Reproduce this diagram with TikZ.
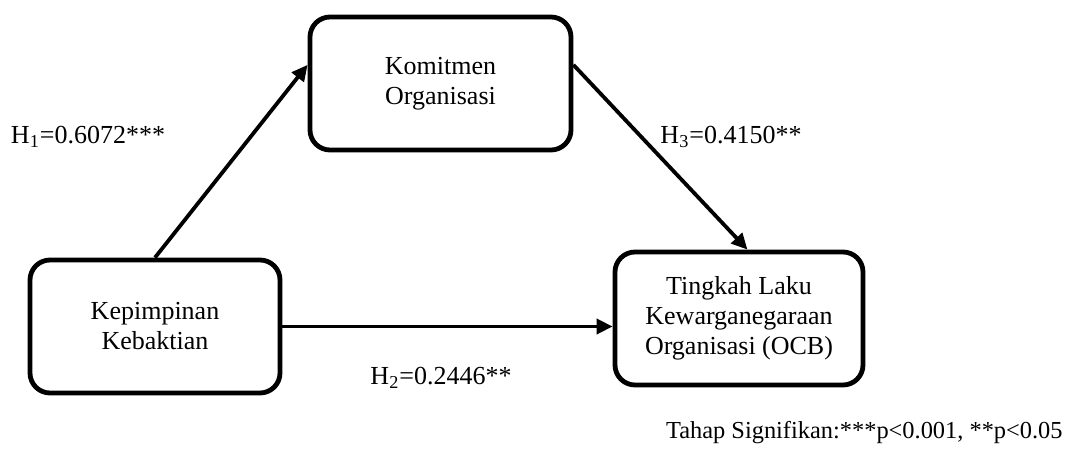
\documentclass[tikz,border=0pt]{standalone}
\usepackage{fontspec}
\setmainfont{Liberation Serif}
\usepackage{tikz}
\usetikzlibrary{arrows.meta}
\newcommand{\hubarrow}{-{Triangle[length=8pt,width=7.5pt]}}
\tikzset{konstruk/.style={draw,line width=2.4pt,rounded corners=10pt,align=center,font=\fontsize{13}{15}\selectfont,inner sep=0pt}}

\begin{document}
\begin{tikzpicture}[x=0.5pt,y=-0.5pt]
		\useasboundingbox (0,0) rectangle (1065,449);
		\node[konstruk,minimum width=130.5pt,minimum height=66.5pt] (kom) at (440.5,83.5) {Komitmen\\Organisasi};
		\node[konstruk,minimum width=125pt,minimum height=66.5pt] (kep) at (155,326.5) {Kepimpinan\\Kebaktian};
		\node[konstruk,minimum width=124pt,minimum height=66.5pt] (ocb) at (739,318.5) {Tingkah Laku\\Kewarganegaraan\\Organisasi (OCB)};
		\draw[line width=1.9pt,\hubarrow] (kep.north) -- (kom.172);
		\draw[line width=1.9pt,\hubarrow] (kom.8) -- (ocb.83);
		\draw[line width=1.9pt,\hubarrow] (kep.east) -- (kep.east -| ocb.west);
		\node[font=\fontsize{13}{15}\selectfont] (h1) at (88,137) {H\textsubscript{1}=0.6072***};
		\node[font=\fontsize{13}{15}\selectfont] (h2) at (441,378) {H\textsubscript{2}=0.2446**};
		\node[font=\fontsize{13}{15}\selectfont] (h3) at (731,137) {H\textsubscript{3}=0.4150**};
		\node[font=\fontsize{12.2}{14}\selectfont,anchor=east,inner sep=1pt] (sig) at (1065,433) {Tahap Signifikan:***p<0.001, **p<0.05};
		\end{tikzpicture}
\end{document}
